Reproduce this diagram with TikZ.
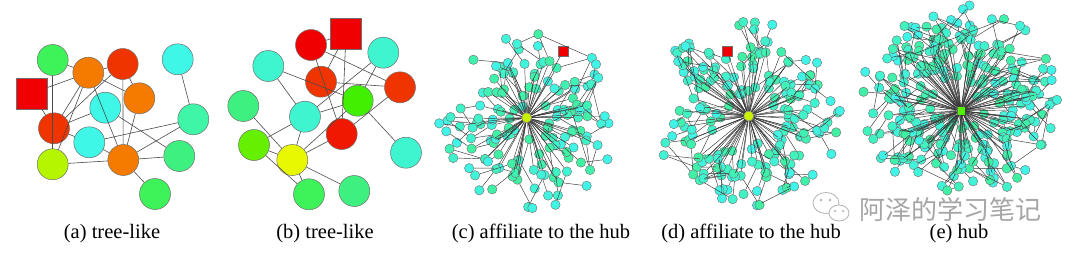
\documentclass[tikz,border=0pt]{standalone}
\usepackage{fontspec}
\setmainfont{Liberation Serif}
\newfontfamily\cjkfont{Noto Sans CJK SC}
\pgfdeclarelayer{fg}
\pgfdeclarelayer{wm}
\pgfsetlayers{main,fg,wm}
\definecolor{cred}{RGB}{240,0,0}
\definecolor{credor}{RGB}{240,52,0}
\definecolor{credb}{RGB}{240,24,0}
\definecolor{corange}{RGB}{245,122,0}
\definecolor{cgreen}{RGB}{62,242,90}
\definecolor{cgreenb}{RGB}{64,240,0}
\definecolor{clime}{RGB}{100,240,0}
\definecolor{cyel}{RGB}{232,248,0}
\definecolor{ccyan}{RGB}{62,247,230}
\definecolor{caqua}{RGB}{62,245,208}
\definecolor{csea}{RGB}{62,245,168}
\definecolor{cseab}{RGB}{62,240,128}
\definecolor{cyg}{RGB}{181,245,0}
\definecolor{ncyan}{RGB}{64,245,232}
\definecolor{nsea}{RGB}{64,240,160}
\definecolor{chub}{RGB}{200,240,0}
\definecolor{chubg}{RGB}{80,240,0}
\definecolor{edgec}{RGB}{75,75,75}
\definecolor{hedgec}{RGB}{55,55,55}
\definecolor{bordc}{RGB}{110,110,110}
\tikzset{
  bn/.style={circle,draw=bordc,line width=0.5pt,minimum size=31pt,inner sep=0pt},
  bsq/.style={rectangle,draw=bordc,line width=0.5pt,minimum size=31pt,inner sep=0pt,fill=cred},
  lk/.style={draw=edgec,line width=0.6pt},
  sm/.style={circle,draw=bordc,line width=0.4pt,minimum size=9.4pt,inner sep=0pt},
  ssq/.style={rectangle,draw=bordc,line width=0.4pt,minimum size=10pt,inner sep=0pt,fill=cred},
  hk/.style={draw=hedgec,line width=0.45pt},
  captxt/.style={anchor=base,inner sep=0pt,font=\fontsize{20.5}{24}\selectfont},
  wmtxt/.style={inner sep=0pt,text=black!35,font=\cjkfont\fontsize{26}{30}\selectfont},
}
\newcommand\addedge[2]{\xdef\edgelist{\unexpanded\expandafter{\edgelist}\noexpand\draw[hk] (#1) -- (#2);}}
% #1 prefix, #2 cx, #3 cy, #4 spokes, #5 rmax, #6 seed, #7 child prob, #8 cross prob
\newcommand\hubgraph[8]{%
  \pgfmathsetseed{#6}%
  \gdef\prevc{}%
  \gdef\edgelist{}%
  \foreach \i in {1,...,#4}{%
    \pgfmathsetmacro\ang{\i/#4*360+10*rand}%
    \pgfmathsetmacro\rad{10+(#5-34)*sqrt(rnd)}%
    \pgfmathtruncatemacro\mix{100*rnd}%
    \pgfmathsetmacro\px{#2+\rad*cos(\ang)}%
    \pgfmathsetmacro\py{#3+\rad*sin(\ang)}%
    \node[sm,fill=nsea!\mix!ncyan] (#1\i) at (\px,\py) {};%
    \addedge{#1hub}{#1\i}%
    \pgfmathtruncatemacro\hs{(rnd<0.18)*(\i>1)}%
    \ifnum\hs=1
      \pgfmathtruncatemacro\pv{\i-1}%
      \addedge{#1\i}{#1\pv}%
    \fi
    \pgfmathtruncatemacro\hc{rnd<#7}%
    \ifnum\hc=1
      \pgfmathsetmacro\cang{\ang+22*rand}%
      \pgfmathsetmacro\crad{min(\rad+13+20*rnd,#5)}%
      \pgfmathtruncatemacro\cmix{100*rnd}%
      \pgfmathsetmacro\qx{#2+\crad*cos(\cang)}%
      \pgfmathsetmacro\qy{#3+\crad*sin(\cang)}%
      \node[sm,fill=nsea!\cmix!ncyan] (#1\i c) at (\qx,\qy) {};%
      \addedge{#1\i}{#1\i c}%
      \pgfmathtruncatemacro\hx{rnd<#8}%
      \ifnum\hx=1
        \ifx\prevc\empty\else
          \addedge{#1\i c}{\prevc}%
        \fi
      \fi
      \xdef\prevc{#1\i c}%
      \pgfmathtruncatemacro\hg{(rnd<0.35)*(\crad<#5-14)}%
      \ifnum\hg=1
        \pgfmathsetmacro\gang{\cang+18*rand}%
        \pgfmathsetmacro\grad{\crad+12+10*rnd}%
        \pgfmathsetmacro\gx{#2+\grad*cos(\gang)}%
        \pgfmathsetmacro\gy{#3+\grad*sin(\gang)}%
        \node[sm,fill=ncyan] (#1\i g) at (\gx,\gy) {};%
        \addedge{#1\i c}{#1\i g}%
      \fi
    \fi
  }%
  \begin{pgfonlayer}{fg}\edgelist\end{pgfonlayer}%
}
\begin{document}
\begin{tikzpicture}[x=1pt,y=-1pt]
\useasboundingbox (0,0) rectangle (1080,258);
\fill[white] (0,0) rectangle (1080,258);

% ---------- (a) ----------
\node[bn,fill=cgreen]  (a1)  at (52.7,60) {};
\node[bn,fill=corange] (a2)  at (88.3,72.7) {};
\node[bn,fill=credor]  (a3)  at (122.7,64) {};
\node[bn,fill=ccyan]   (a4)  at (177.7,59.3) {};
\node[bsq]             (as)  at (31.7,93.3) {};
\node[bn,fill=corange] (a5)  at (139.3,98.3) {};
\node[bn,fill=ccyan]   (a6)  at (105.3,107.7) {};
\node[bn,fill=credor]  (a7)  at (54,128.3) {};
\node[bn,fill=csea]    (a8)  at (193.3,119.3) {};
\node[bn,fill=ccyan]   (a9)  at (89.3,142.3) {};
\node[bn,fill=cyg]     (a10) at (52.7,164.3) {};
\node[bn,fill=corange] (a11) at (123.3,160) {};
\node[bn,fill=cseab]   (a12) at (179.3,156) {};
\node[bn,fill=cgreen]  (a13) at (155,194) {};
\begin{pgfonlayer}{fg}
\draw[lk] (a1) -- (a2);
\draw[lk] (a2) -- (a3);
\draw[lk] (a1) -- (a10);
\draw[lk] (as) -- (a2);
\draw[lk] (as) -- (a7);
\draw[lk] (a2) -- (a7);
\draw[lk] (a10) -- (a2);
\draw[lk] (a3) -- (a7);
\draw[lk] (a3) -- (a11);
\draw[lk] (a2) -- (a11);
\draw[lk] (a3) -- (a5);
\draw[lk] (a2) -- (a5);
\draw[lk] (a7) -- (a6);
\draw[lk] (a7) -- (a9);
\draw[lk] (a9) -- (a11);
\draw[lk] (a6) -- (a12);
\draw[lk] (a9) -- (a8);
\draw[lk] (a8) -- (a11);
\draw[lk] (a4) -- (a8);
\draw[lk] (a11) -- (a12);
\draw[lk] (a11) -- (a13);
\draw[lk] (a10) -- (a11);
\draw[lk] (a5) -- (a11);
\end{pgfonlayer}

% ---------- (b) ----------
\node[bsq]              (bs)  at (346,34) {};
\node[bn,fill=cred]     (b1)  at (311,45) {};
\node[bn,fill=caqua]    (b2)  at (383.3,52.7) {};
\node[bn,fill=caqua]    (b3)  at (268.3,66) {};
\node[bn,fill=credor]   (b4)  at (321,81.7) {};
\node[bn,fill=credor]   (b5)  at (400,87.3) {};
\node[bn,fill=cgreenb]  (b6)  at (357.7,100.7) {};
\node[bn,fill=cseab]    (b7)  at (243.3,106) {};
\node[bn,fill=caqua]    (b8)  at (305,116.7) {};
\node[bn,fill=credb]    (b9)  at (341.7,134) {};
\node[bn,fill=clime]    (b10) at (254,145) {};
\node[bn,fill=cyel]     (b11) at (292.3,160) {};
\node[bn,fill=caqua]    (b12) at (406,152.7) {};
\node[bn,fill=cgreen]   (b13) at (309,194.3) {};
\node[bn,fill=cseab]    (b14) at (354.3,191) {};
\begin{pgfonlayer}{fg}
\draw[lk] (bs) -- (b1);
\draw[lk] (bs) -- (b4);
\draw[lk] (bs) -- (b9);
\draw[lk] (b1) -- (b5);
\draw[lk] (b1) -- (b9);
\draw[lk] (b3) -- (b6);
\draw[lk] (b3) -- (b8);
\draw[lk] (b2) -- (b8);
\draw[lk] (b2) -- (b6);
\draw[lk] (b4) -- (b5);
\draw[lk] (b5) -- (b9);
\draw[lk] (b6) -- (b11);
\draw[lk] (b9) -- (b11);
\draw[lk] (b6) -- (b12);
\draw[lk] (b7) -- (b11);
\draw[lk] (b8) -- (b11);
\draw[lk] (b10) -- (b11);
\draw[lk] (b10) -- (b13);
\draw[lk] (b11) -- (b13);
\draw[lk] (b11) -- (b14);
\draw[lk] (b10) -- (b8);
\draw[lk] (b8) -- (b6);
\end{pgfonlayer}

% ---------- hubs ----------
\begin{pgfonlayer}{fg}
\node[circle,draw=bordc,line width=0.4pt,minimum size=10pt,inner sep=0pt,fill=chub] (chub) at (526.7,117.7) {};
\node[circle,draw=bordc,line width=0.4pt,minimum size=10pt,inner sep=0pt,fill=chub] (dhub) at (748.7,116) {};
\node[rectangle,draw=bordc,line width=0.4pt,minimum size=8.5pt,inner sep=0pt,fill=chubg] (ehub) at (961,110.7) {};
\end{pgfonlayer}

% ---------- (c) ----------
\hubgraph{c}{532}{121}{82}{87}{17}{0.6}{0.35}
% ---------- (d) ----------
\hubgraph{d}{746}{114}{96}{92}{29}{0.65}{0.35}
% ---------- (e) ----------
\hubgraph{e}{960}{102}{138}{97}{53}{0.75}{0.4}

% ---------- red squares ----------
\node[ssq] (csq) at (563.3,50.7) {};
\node[ssq] (dsq) at (727.3,51.3) {};
\begin{pgfonlayer}{fg}
\draw[hk] (csq) -- (chub);
\draw[hk] (dsq) -- (dhub);
\end{pgfonlayer}

% ---------- captions ----------
\node[captxt] (capa) at (112,238) {(a) tree-like};
\node[captxt] (capb) at (325,238) {(b) tree-like};
\node[captxt] (capc) at (541,238) {(c) affiliate to the hub};
\node[captxt] (capd) at (751,238) {(d) affiliate to the hub};
\node[captxt] (cape) at (959,238) {(e) hub};

% ---------- watermark ----------
\begin{pgfonlayer}{wm}
\draw[black!30,fill=white,line width=0.8pt] (826,203) ellipse [x radius=13,y radius=10.5];
\draw[black!30,fill=white,line width=0.8pt] (839,213) ellipse [x radius=10,y radius=8];
\fill[black!30] (821,200) circle (1.4) (830,200) circle (1.4) (835,211) circle (1.1) (843,211) circle (1.1);
\node[wmtxt] (wmark) at (950,209) {阿泽的学习笔记};
\end{pgfonlayer}
\end{tikzpicture}
\end{document}
